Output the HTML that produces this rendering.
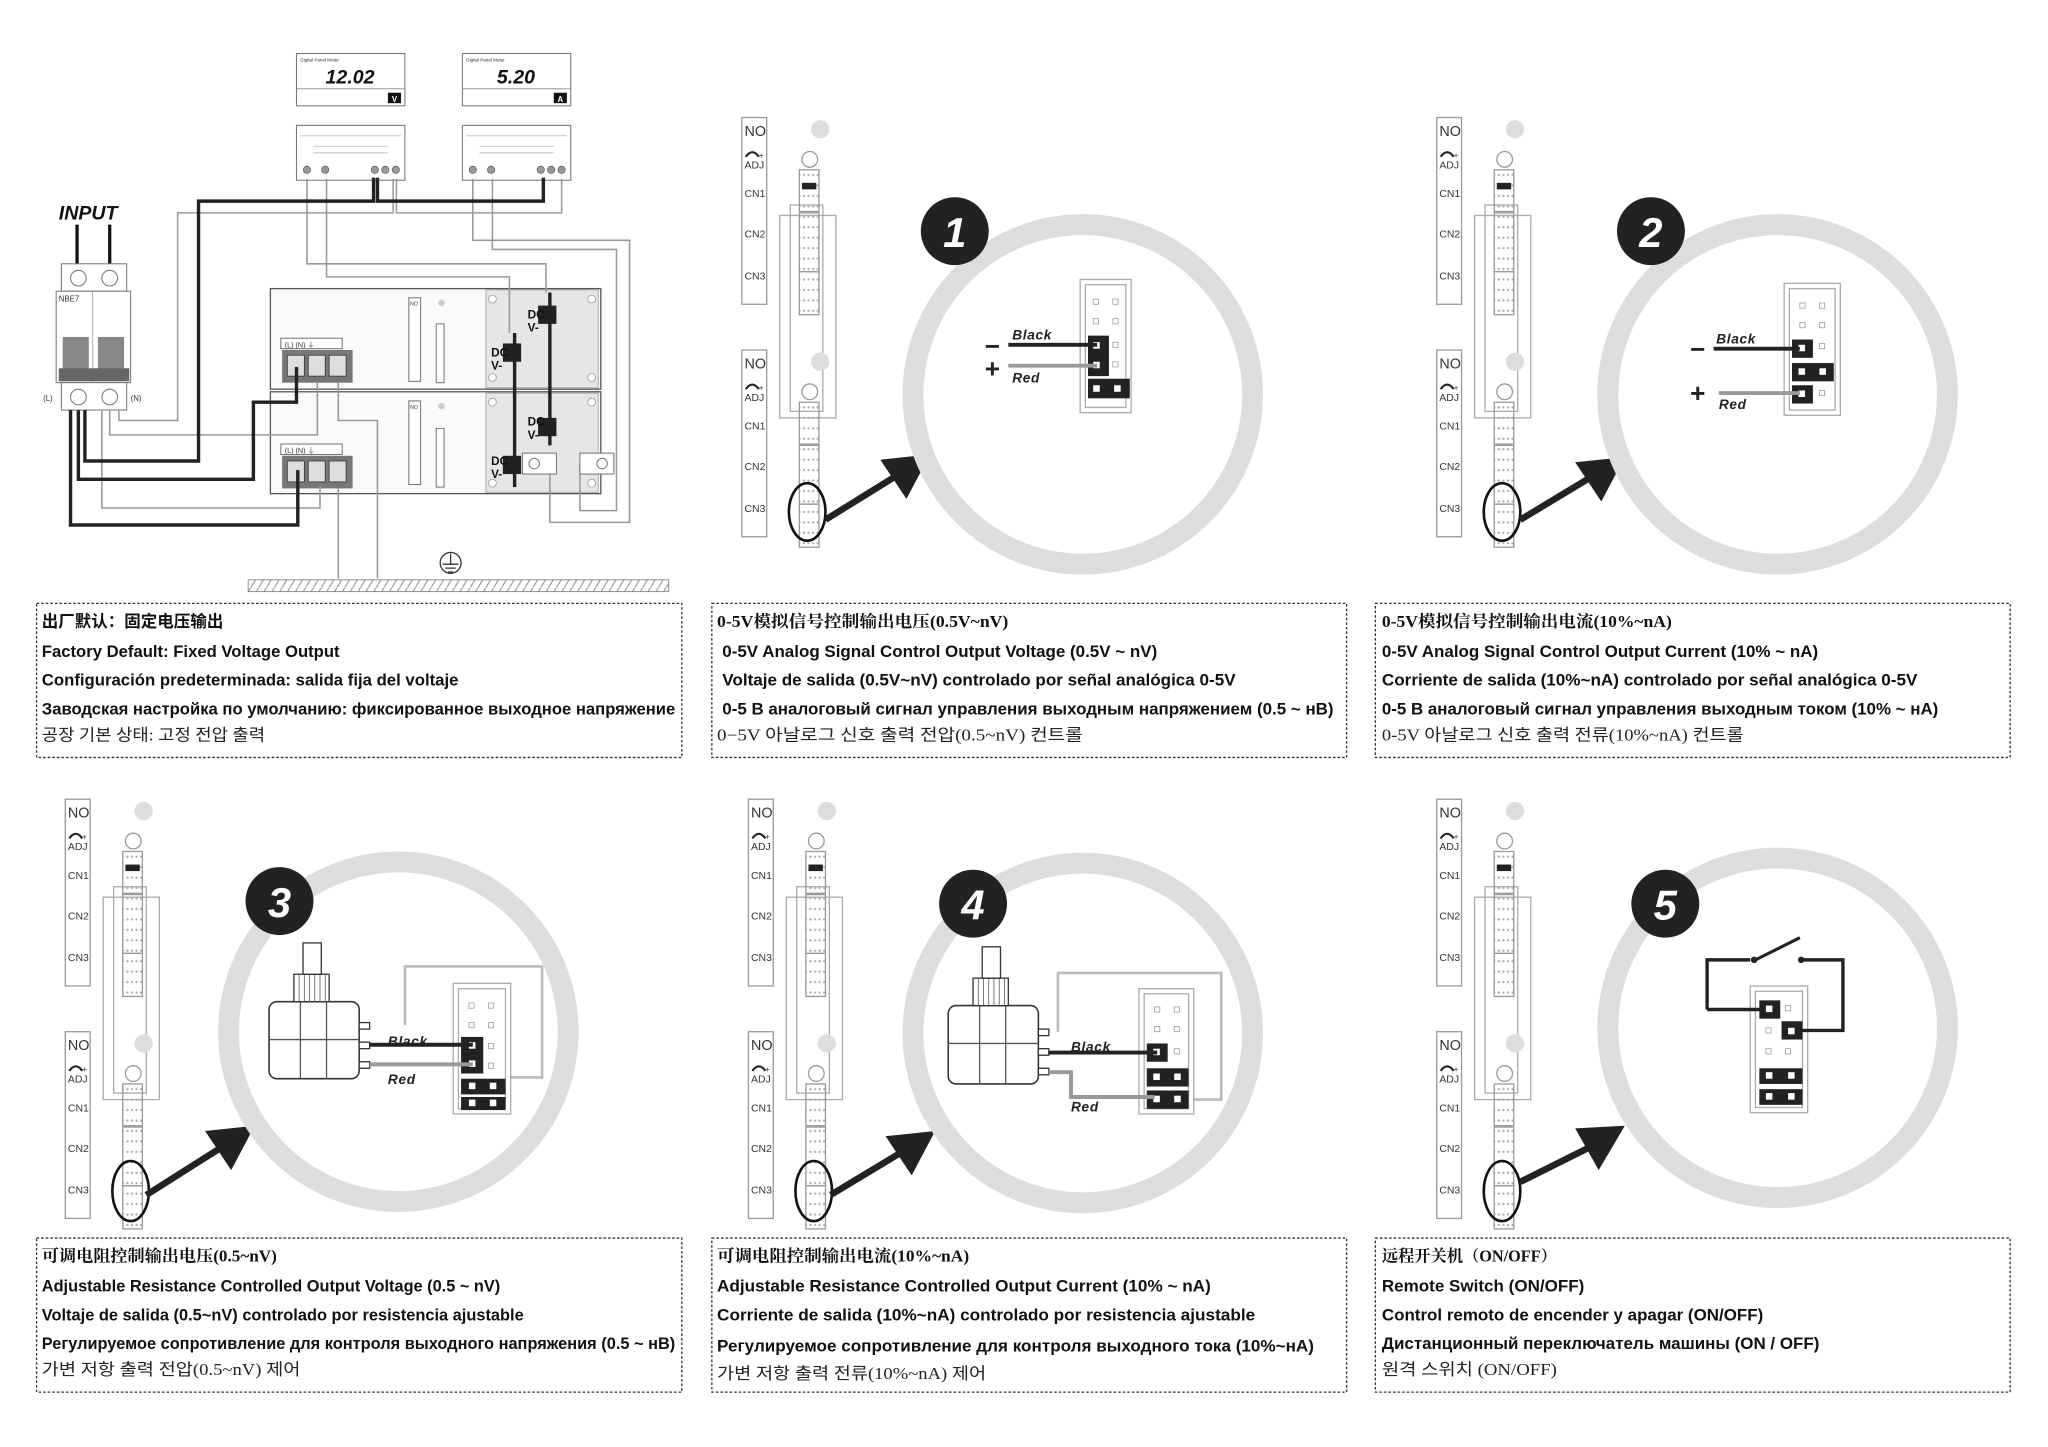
<!DOCTYPE html>
<html><head><meta charset="utf-8"><style>
html,body{margin:0;padding:0;background:#fff}
svg{display:block}
.t{font-family:"Liberation Sans","Noto Sans CJK SC",sans-serif;font-size:12.5px;font-weight:bold;fill:#111}
.k{font-family:"Liberation Serif","Noto Sans CJK KR",serif;font-size:12.5px;fill:#222}
.c{font-family:"Liberation Serif","Noto Serif CJK SC","Noto Sans CJK SC",serif;font-size:12.5px;font-weight:bold;fill:#111}
.s{font-family:"Liberation Sans",sans-serif;fill:#333}
.bx{fill:none;stroke:#333;stroke-width:1;stroke-dasharray:2 1.5}
.g{fill:none;stroke:#999;stroke-width:1.2}
.b{fill:none;stroke:#222;stroke-width:2.6}
.ln{fill:#fff;stroke:#777;stroke-width:0.8}
.ring{fill:none;stroke:#ddd;stroke-width:16}
.wl{font-family:"Liberation Sans",sans-serif;font-weight:bold;font-style:italic;font-size:10.5px;fill:#222;letter-spacing:0.5px}
</style></head><body>
<svg width="2048" height="1447" viewBox="0 0 1568 1108" preserveAspectRatio="none" xmlns="http://www.w3.org/2000/svg">
<defs>
<pattern id="dots" width="7" height="8" patternUnits="userSpaceOnUse"><circle cx="2" cy="4" r="0.9" fill="#aaa"/><circle cx="5.5" cy="4" r="0.9" fill="#aaa"/></pattern>
<pattern id="hatch" width="6" height="10" patternUnits="userSpaceOnUse"><path d="M0,10 L6,0" stroke="#888" stroke-width="0.8"/></pattern>
<marker id="ah" viewBox="0 0 10 10" refX="5" refY="5" markerWidth="4" markerHeight="4" orient="auto"><path d="M0,0 L10,5 L0,10 z" fill="#222"/></marker>
</defs>
<rect width="1568" height="1108" fill="#fff"/>

<!-- ========== TOP LEFT WIRING ========== -->
<!-- meters -->
<g>
<rect x="227" y="41" width="83" height="40" class="ln" stroke="#555"/>
<line x1="227" y1="68" x2="310" y2="68" stroke="#888" stroke-width="0.7"/>
<text x="230" y="47" class="s" font-size="3.5">Digital Panel Meter</text>
<text x="268" y="64" text-anchor="middle" font-family="Liberation Sans" font-weight="bold" font-style="italic" font-size="15" fill="#111">12.02</text>
<rect x="297" y="71" width="10" height="8" fill="#111"/><text x="302" y="78" text-anchor="middle" font-family="Liberation Sans" font-size="6" font-weight="bold" fill="#fff">V</text>
<rect x="354" y="41" width="83" height="40" class="ln" stroke="#555"/>
<line x1="354" y1="68" x2="437" y2="68" stroke="#888" stroke-width="0.7"/>
<text x="357" y="47" class="s" font-size="3.5">Digital Panel Meter</text>
<text x="395" y="64" text-anchor="middle" font-family="Liberation Sans" font-weight="bold" font-style="italic" font-size="15" fill="#111">5.20</text>
<rect x="424" y="71" width="10" height="8" fill="#111"/><text x="429" y="78" text-anchor="middle" font-family="Liberation Sans" font-size="6" font-weight="bold" fill="#fff">A</text>
<rect x="227" y="96" width="83" height="42" class="ln"/>
<rect x="354" y="96" width="83" height="42" class="ln"/>
<g stroke="#bbb" stroke-width="0.6">
<line x1="230" y1="104" x2="307" y2="104"/><line x1="240" y1="112" x2="297" y2="112"/><line x1="240" y1="117" x2="297" y2="117"/>
<line x1="357" y1="104" x2="434" y2="104"/><line x1="367" y1="112" x2="424" y2="112"/><line x1="367" y1="117" x2="424" y2="117"/>
</g>
<g fill="#999" stroke="#555" stroke-width="0.5">
<circle cx="235" cy="130" r="2.8"/><circle cx="249" cy="130" r="2.8"/><circle cx="287" cy="130" r="2.8"/><circle cx="295" cy="130" r="2.8"/><circle cx="303" cy="130" r="2.8"/>
<circle cx="362" cy="130" r="2.8"/><circle cx="376" cy="130" r="2.8"/><circle cx="414" cy="130" r="2.8"/><circle cx="422" cy="130" r="2.8"/><circle cx="430" cy="130" r="2.8"/>
</g>
</g>
<!-- INPUT + breaker -->
<text x="45" y="168" font-family="Liberation Sans" font-weight="bold" font-style="italic" font-size="15" fill="#111">INPUT</text>
<line x1="59" y1="172" x2="59" y2="204" stroke="#111" stroke-width="2.5"/>
<line x1="84" y1="172" x2="84" y2="204" stroke="#111" stroke-width="2.5"/>
<rect x="47" y="202" width="50" height="21" class="ln"/>
<circle cx="60" cy="213" r="6" class="ln"/><circle cx="84" cy="213" r="6" class="ln"/>
<rect x="43" y="223" width="57" height="70" class="ln"/>
<line x1="71" y1="223" x2="71" y2="293" stroke="#999" stroke-width="0.6"/>
<text x="45" y="231" class="s" font-size="6">NBE7</text>
<rect x="48" y="258" width="20" height="26" fill="#888"/><rect x="75" y="258" width="20" height="26" fill="#888"/>
<rect x="45" y="282" width="54" height="10" fill="#666"/>
<rect x="47" y="293" width="50" height="21" class="ln"/>
<circle cx="60" cy="304" r="6" class="ln"/><circle cx="84" cy="304" r="6" class="ln"/>
<text x="33" y="307" class="s" font-size="6">(L)</text><text x="100" y="307" class="s" font-size="6">(N)</text>

<!-- PSU boxes -->
<rect x="207" y="221" width="253" height="77" fill="#fafafa" stroke="#555" stroke-width="1"/>
<rect x="207" y="300" width="253" height="78" fill="#fafafa" stroke="#555" stroke-width="1"/>
<rect x="372" y="222" width="86" height="75" fill="#e6e6e6" stroke="#999" stroke-width="0.6"/>
<rect x="372" y="301" width="86" height="76" fill="#e6e6e6" stroke="#999" stroke-width="0.6"/>
<g fill="#fff" stroke="#999" stroke-width="0.6">
<circle cx="377" cy="229" r="3"/><circle cx="453" cy="229" r="3"/><circle cx="377" cy="289" r="3"/><circle cx="453" cy="289" r="3"/>
<circle cx="377" cy="308" r="3"/><circle cx="453" cy="308" r="3"/><circle cx="377" cy="370" r="3"/><circle cx="453" cy="370" r="3"/>
</g>
<rect x="313" y="228" width="9" height="64" class="ln"/><rect x="313" y="307" width="9" height="64" class="ln"/>
<text x="314" y="234" class="s" font-size="4">NO</text><text x="314" y="313" class="s" font-size="4">NO</text>
<circle cx="338" cy="232" r="2.5" fill="#ccc"/><circle cx="338" cy="311" r="2.5" fill="#ccc"/>
<rect x="334" y="248" width="6" height="45" class="ln"/><rect x="334" y="328" width="6" height="45" class="ln"/>
<rect x="215" y="259" width="47" height="8" class="ln"/><rect x="215" y="340" width="47" height="8" class="ln"/>
<text x="218" y="266" class="s" font-size="5.5">(L)   (N)   ⏚</text><text x="218" y="347" class="s" font-size="5.5">(L)   (N)   ⏚</text>
<rect x="216" y="268" width="54" height="25" fill="#777"/><rect x="216" y="349" width="54" height="25" fill="#777"/>
<g fill="#ddd" stroke="#333" stroke-width="0.6">
<rect x="220" y="272" width="13" height="16"/><rect x="236" y="272" width="13" height="16"/><rect x="252" y="272" width="13" height="16"/>
<rect x="220" y="353" width="13" height="16"/><rect x="236" y="353" width="13" height="16"/><rect x="252" y="353" width="13" height="16"/>
</g>
<!-- thin wires -->
<g class="g">
<path d="M301,137 V163 H136 V322 H91 V314"/>
<path d="M303.5,137 V163 H430 V137"/>
<path d="M235,137 V202 H418 V224"/>
<path d="M250,137 V212 H390 V255"/>
<path d="M362,137 V184 H482 V400 H421 V356"/>
<path d="M377,137 V191 H472 V391 H444 V356"/>
<path d="M84,314 V333 H243 V293"/>
<path d="M78,314 V389 H245 V372"/>
<path d="M259,293 V322 H289 V443"/>
<path d="M259,374 V443"/>
</g>
<!-- thick wires -->
<g class="b">
<path d="M286,136 V154 H152 V353 H65 V314"/>
<path d="M289,136 V154 H416 V136"/>
<path d="M60,314 V367 H194 V308 H227 V281"/>
<path d="M54,314 V402 H228 V360"/>
<path d="M421,224 V341"/>
<path d="M394,255 V373"/>
</g>
<g fill="#222">
<rect x="412" y="234" width="14" height="14"/><rect x="385" y="263" width="14" height="14"/><rect x="412" y="320" width="14" height="14"/><rect x="385" y="349" width="14" height="14"/>
</g>
<g font-family="Liberation Sans" font-weight="bold" font-size="9" fill="#111">
<text x="404" y="244">DC</text><text x="404" y="254">V-</text>
<text x="376" y="273">DC</text><text x="376" y="283">V-</text>
<text x="404" y="326">DC</text><text x="404" y="336">V-</text>
<text x="376" y="356">DC</text><text x="376" y="366">V-</text>
</g>
<rect x="400" y="347" width="26" height="16" class="ln"/><rect x="444" y="347" width="26" height="16" class="ln"/>
<circle cx="409" cy="355" r="4" class="ln"/><circle cx="461" cy="355" r="4" class="ln"/>
<!-- ground -->
<rect x="190" y="444" width="322" height="9" fill="url(#hatch)" stroke="#888" stroke-width="0.7"/>
<circle cx="345" cy="431" r="8" fill="#fff" stroke="#333"/>
<path d="M345,424 V432 M339,432 H351 M341,435 H349 M343,438 H347" stroke="#333" fill="none"/>

<!-- ========== PANEL TEMPLATE COPIES ========== -->
<!-- PANEL 1 -->
<g transform="translate(568,90)">
 <g id="st1">
 <rect x="0" y="0" width="19" height="143" fill="#fff" stroke="#999"/>
 <text x="2" y="14" class="s" font-size="11">NO</text>
 <path d="M3,30 q5,-7 10,0" fill="none" stroke="#222" stroke-width="1.6"/><text x="13" y="31" class="s" font-size="6">+</text>
 <text x="2" y="39" class="s" font-size="8">ADJ</text>
 <text x="2" y="61" class="s" font-size="8">CN1</text><text x="2" y="92" class="s" font-size="8">CN2</text><text x="2" y="124" class="s" font-size="8">CN3</text>
 </g>
 <g transform="translate(0,178)">
 <rect x="0" y="0" width="19" height="143" fill="#fff" stroke="#999"/>
 <text x="2" y="14" class="s" font-size="11">NO</text>
 <path d="M3,30 q5,-7 10,0" fill="none" stroke="#222" stroke-width="1.6"/><text x="13" y="31" class="s" font-size="6">+</text>
 <text x="2" y="39" class="s" font-size="8">ADJ</text>
 <text x="2" y="61" class="s" font-size="8">CN1</text><text x="2" y="92" class="s" font-size="8">CN2</text><text x="2" y="124" class="s" font-size="8">CN3</text>
 </g>
 <rect x="29" y="75" width="43" height="155" fill="none" stroke="#aaa"/><rect x="37" y="67" width="25" height="158" fill="none" stroke="#aaa"/>
 <circle cx="60" cy="9" r="7" fill="#ddd"/><circle cx="52" cy="32" r="6" fill="#fff" stroke="#999"/>
 <rect x="44" y="40" width="15" height="32" fill="url(#dots)" stroke="#999"/><rect x="44" y="73" width="15" height="45" fill="url(#dots)" stroke="#999"/><rect x="44" y="118" width="15" height="33" fill="url(#dots)" stroke="#999"/>
 <rect x="46" y="50" width="11" height="5" fill="#222"/>
 <g transform="translate(0,178)">
 <circle cx="60" cy="9" r="7" fill="#ddd"/><circle cx="52" cy="32" r="6" fill="#fff" stroke="#999"/>
 <rect x="44" y="40" width="15" height="32" fill="url(#dots)" stroke="#999"/><rect x="44" y="73" width="15" height="45" fill="url(#dots)" stroke="#999"/><rect x="44" y="118" width="15" height="33" fill="url(#dots)" stroke="#999"/>
 </g>
 <ellipse cx="50" cy="302" rx="14" ry="22" fill="none" stroke="#111" stroke-width="2"/>
</g>
<line x1="632" y1="398" x2="690" y2="362" stroke="#222" stroke-width="5"/>
<polygon points="712,348 674,352 694,382" fill="#222"/>
<circle cx="829" cy="302" r="130" class="ring"/>
<circle cx="731" cy="177" r="26" fill="#222"/>
<text x="731" y="189" text-anchor="middle" font-family="Liberation Sans" font-weight="bold" font-style="italic" font-size="32" fill="#fff">1</text>
<rect x="827" y="214" width="39" height="102" fill="#fff" stroke="#aaa"/><rect x="831" y="218" width="31" height="94" fill="none" stroke="#aaa"/>
<g fill="#fff" stroke="#999" stroke-width="0.6"><rect x="837" y="229" width="4" height="4"/><rect x="852" y="229" width="4" height="4"/><rect x="837" y="244" width="4" height="4"/><rect x="852" y="244" width="4" height="4"/><rect x="852" y="262" width="4" height="4"/><rect x="852" y="277" width="4" height="4"/></g>
<rect x="833" y="257" width="16" height="31" fill="#222"/><rect x="833" y="290" width="32" height="15" fill="#222"/>
<g fill="#fff"><rect x="837" y="262" width="5" height="5"/><rect x="837" y="277" width="5" height="5"/><rect x="837" y="295" width="5" height="5"/><rect x="853" y="295" width="5" height="5"/></g>
<line x1="772" y1="264" x2="840" y2="264" stroke="#222" stroke-width="3"/>
<line x1="772" y1="280" x2="840" y2="280" stroke="#999" stroke-width="3"/>
<text x="775" y="260" class="wl">Black</text><text x="775" y="293" class="wl">Red</text>
<text x="754" y="272" font-family="Liberation Sans" font-weight="bold" font-size="20" fill="#222">−</text>
<text x="754" y="289" font-family="Liberation Sans" font-weight="bold" font-size="20" fill="#222">+</text>

<!-- PANEL 2 -->
<g transform="translate(1100,90)">
 <rect x="0" y="0" width="19" height="143" fill="#fff" stroke="#999"/>
 <text x="2" y="14" class="s" font-size="11">NO</text>
 <path d="M3,30 q5,-7 10,0" fill="none" stroke="#222" stroke-width="1.6"/><text x="13" y="31" class="s" font-size="6">+</text>
 <text x="2" y="39" class="s" font-size="8">ADJ</text>
 <text x="2" y="61" class="s" font-size="8">CN1</text><text x="2" y="92" class="s" font-size="8">CN2</text><text x="2" y="124" class="s" font-size="8">CN3</text>
 <g transform="translate(0,178)">
 <rect x="0" y="0" width="19" height="143" fill="#fff" stroke="#999"/>
 <text x="2" y="14" class="s" font-size="11">NO</text>
 <path d="M3,30 q5,-7 10,0" fill="none" stroke="#222" stroke-width="1.6"/><text x="13" y="31" class="s" font-size="6">+</text>
 <text x="2" y="39" class="s" font-size="8">ADJ</text>
 <text x="2" y="61" class="s" font-size="8">CN1</text><text x="2" y="92" class="s" font-size="8">CN2</text><text x="2" y="124" class="s" font-size="8">CN3</text>
 </g>
 <rect x="29" y="75" width="43" height="155" fill="none" stroke="#aaa"/><rect x="37" y="67" width="25" height="158" fill="none" stroke="#aaa"/>
 <circle cx="60" cy="9" r="7" fill="#ddd"/><circle cx="52" cy="32" r="6" fill="#fff" stroke="#999"/>
 <rect x="44" y="40" width="15" height="32" fill="url(#dots)" stroke="#999"/><rect x="44" y="73" width="15" height="45" fill="url(#dots)" stroke="#999"/><rect x="44" y="118" width="15" height="33" fill="url(#dots)" stroke="#999"/>
 <rect x="46" y="50" width="11" height="5" fill="#222"/>
 <g transform="translate(0,178)">
 <circle cx="60" cy="9" r="7" fill="#ddd"/><circle cx="52" cy="32" r="6" fill="#fff" stroke="#999"/>
 <rect x="44" y="40" width="15" height="32" fill="url(#dots)" stroke="#999"/><rect x="44" y="73" width="15" height="45" fill="url(#dots)" stroke="#999"/><rect x="44" y="118" width="15" height="33" fill="url(#dots)" stroke="#999"/>
 </g>
 <ellipse cx="50" cy="302" rx="14" ry="22" fill="none" stroke="#111" stroke-width="2"/>
</g>
<line x1="1164" y1="398" x2="1222" y2="363" stroke="#222" stroke-width="5"/>
<polygon points="1244,350 1206,354 1226,384" fill="#222"/>
<circle cx="1361" cy="302" r="130" class="ring"/>
<circle cx="1264" cy="177" r="26" fill="#222"/>
<text x="1264" y="189" text-anchor="middle" font-family="Liberation Sans" font-weight="bold" font-style="italic" font-size="32" fill="#fff">2</text>
<rect x="1366" y="217" width="43" height="101" fill="#fff" stroke="#aaa"/><rect x="1370" y="221" width="35" height="93" fill="none" stroke="#aaa"/>
<g fill="#fff" stroke="#999" stroke-width="0.6"><rect x="1378" y="232" width="4" height="4"/><rect x="1393" y="232" width="4" height="4"/><rect x="1378" y="247" width="4" height="4"/><rect x="1393" y="247" width="4" height="4"/><rect x="1393" y="263" width="4" height="4"/></g>
<rect x="1372" y="260" width="16" height="14" fill="#222"/><rect x="1372" y="278" width="32" height="14" fill="#222"/><rect x="1372" y="295" width="16" height="14" fill="#222"/>
<g fill="#fff"><rect x="1377" y="264" width="5" height="5"/><rect x="1377" y="282" width="5" height="5"/><rect x="1393" y="282" width="5" height="5"/><rect x="1377" y="299" width="5" height="5"/></g>
<rect x="1393" y="299" width="4" height="4" fill="#fff" stroke="#999" stroke-width="0.6"/>
<line x1="1312" y1="267" x2="1378" y2="267" stroke="#222" stroke-width="3"/>
<line x1="1316" y1="301" x2="1378" y2="301" stroke="#999" stroke-width="3"/>
<text x="1314" y="263" class="wl">Black</text><text x="1316" y="313" class="wl">Red</text>
<text x="1294" y="274" font-family="Liberation Sans" font-weight="bold" font-size="20" fill="#222">−</text>
<text x="1294" y="308" font-family="Liberation Sans" font-weight="bold" font-size="20" fill="#222">+</text>

<!-- PANEL 3 -->
<g transform="translate(50,612)">
 <rect x="0" y="0" width="19" height="143" fill="#fff" stroke="#999"/>
 <text x="2" y="14" class="s" font-size="11">NO</text>
 <path d="M3,30 q5,-7 10,0" fill="none" stroke="#222" stroke-width="1.6"/><text x="13" y="31" class="s" font-size="6">+</text>
 <text x="2" y="39" class="s" font-size="8">ADJ</text>
 <text x="2" y="61" class="s" font-size="8">CN1</text><text x="2" y="92" class="s" font-size="8">CN2</text><text x="2" y="124" class="s" font-size="8">CN3</text>
 <g transform="translate(0,178)">
 <rect x="0" y="0" width="19" height="143" fill="#fff" stroke="#999"/>
 <text x="2" y="14" class="s" font-size="11">NO</text>
 <path d="M3,30 q5,-7 10,0" fill="none" stroke="#222" stroke-width="1.6"/><text x="13" y="31" class="s" font-size="6">+</text>
 <text x="2" y="39" class="s" font-size="8">ADJ</text>
 <text x="2" y="61" class="s" font-size="8">CN1</text><text x="2" y="92" class="s" font-size="8">CN2</text><text x="2" y="124" class="s" font-size="8">CN3</text>
 </g>
 <rect x="29" y="75" width="43" height="155" fill="none" stroke="#aaa"/><rect x="37" y="67" width="25" height="158" fill="none" stroke="#aaa"/>
 <circle cx="60" cy="9" r="7" fill="#ddd"/><circle cx="52" cy="32" r="6" fill="#fff" stroke="#999"/>
 <rect x="44" y="40" width="15" height="32" fill="url(#dots)" stroke="#999"/><rect x="44" y="73" width="15" height="45" fill="url(#dots)" stroke="#999"/><rect x="44" y="118" width="15" height="33" fill="url(#dots)" stroke="#999"/>
 <rect x="46" y="50" width="11" height="5" fill="#222"/>
 <g transform="translate(0,178)">
 <circle cx="60" cy="9" r="7" fill="#ddd"/><circle cx="52" cy="32" r="6" fill="#fff" stroke="#999"/>
 <rect x="44" y="40" width="15" height="32" fill="url(#dots)" stroke="#999"/><rect x="44" y="73" width="15" height="45" fill="url(#dots)" stroke="#999"/><rect x="44" y="118" width="15" height="33" fill="url(#dots)" stroke="#999"/>
 </g>
 <ellipse cx="50" cy="300" rx="14" ry="23" fill="none" stroke="#111" stroke-width="2"/>
</g>
<line x1="112" y1="915" x2="172" y2="877" stroke="#222" stroke-width="5"/>
<polygon points="195,862 157,866 177,896" fill="#222"/>
<circle cx="305" cy="790" r="130" class="ring"/>
<circle cx="214" cy="690" r="26" fill="#222"/>
<text x="214" y="702" text-anchor="middle" font-family="Liberation Sans" font-weight="bold" font-style="italic" font-size="32" fill="#fff">3</text>
<path d="M310,785 V740 H415 V825 H391" fill="none" stroke="#bbb" stroke-width="2"/>
<rect x="347" y="753" width="44" height="100" fill="#fff" stroke="#aaa"/><rect x="351" y="757" width="36" height="92" fill="none" stroke="#aaa"/>
<g fill="#fff" stroke="#999" stroke-width="0.6"><rect x="359" y="768" width="4" height="4"/><rect x="374" y="768" width="4" height="4"/><rect x="359" y="783" width="4" height="4"/><rect x="374" y="783" width="4" height="4"/><rect x="374" y="799" width="4" height="4"/><rect x="374" y="814" width="4" height="4"/></g>
<rect x="353" y="794" width="17" height="28" fill="#222"/><rect x="353" y="826" width="34" height="12" fill="#222"/><rect x="353" y="840" width="34" height="10" fill="#222"/>
<g fill="#fff"><rect x="359" y="798" width="5" height="5"/><rect x="359" y="812" width="5" height="5"/><rect x="359" y="829" width="5" height="5"/><rect x="375" y="829" width="5" height="5"/><rect x="359" y="842" width="5" height="5"/><rect x="375" y="842" width="5" height="5"/></g>
<rect x="206" y="767" width="69" height="59" rx="6" fill="#fff" stroke="#333" stroke-width="1.2"/>
<line x1="230" y1="767" x2="230" y2="826" stroke="#555"/><line x1="250" y1="767" x2="250" y2="826" stroke="#555"/><line x1="206" y1="796" x2="275" y2="796" stroke="#555"/>
<rect x="225" y="746" width="27" height="21" fill="#fff" stroke="#333"/>
<path d="M229,746 V767 M233,746 V767 M237,746 V767 M241,746 V767 M245,746 V767 M249,746 V767" stroke="#555" stroke-width="0.6"/>
<rect x="232" y="722" width="14" height="24" fill="#fff" stroke="#333"/>
<g fill="#fff" stroke="#333"><rect x="275" y="783" width="8" height="5"/><rect x="275" y="798" width="8" height="5"/><rect x="275" y="813" width="8" height="5"/></g>
<line x1="283" y1="800" x2="362" y2="800" stroke="#222" stroke-width="3"/>
<line x1="283" y1="815" x2="362" y2="815" stroke="#999" stroke-width="3"/>
<text x="297" y="801" class="wl">Black</text><text x="297" y="830" class="wl">Red</text>

<!-- PANEL 4 -->
<g transform="translate(573,612)">
 <rect x="0" y="0" width="19" height="143" fill="#fff" stroke="#999"/>
 <text x="2" y="14" class="s" font-size="11">NO</text>
 <path d="M3,30 q5,-7 10,0" fill="none" stroke="#222" stroke-width="1.6"/><text x="13" y="31" class="s" font-size="6">+</text>
 <text x="2" y="39" class="s" font-size="8">ADJ</text>
 <text x="2" y="61" class="s" font-size="8">CN1</text><text x="2" y="92" class="s" font-size="8">CN2</text><text x="2" y="124" class="s" font-size="8">CN3</text>
 <g transform="translate(0,178)">
 <rect x="0" y="0" width="19" height="143" fill="#fff" stroke="#999"/>
 <text x="2" y="14" class="s" font-size="11">NO</text>
 <path d="M3,30 q5,-7 10,0" fill="none" stroke="#222" stroke-width="1.6"/><text x="13" y="31" class="s" font-size="6">+</text>
 <text x="2" y="39" class="s" font-size="8">ADJ</text>
 <text x="2" y="61" class="s" font-size="8">CN1</text><text x="2" y="92" class="s" font-size="8">CN2</text><text x="2" y="124" class="s" font-size="8">CN3</text>
 </g>
 <rect x="29" y="75" width="43" height="155" fill="none" stroke="#aaa"/><rect x="37" y="67" width="25" height="158" fill="none" stroke="#aaa"/>
 <circle cx="60" cy="9" r="7" fill="#ddd"/><circle cx="52" cy="32" r="6" fill="#fff" stroke="#999"/>
 <rect x="44" y="40" width="15" height="32" fill="url(#dots)" stroke="#999"/><rect x="44" y="73" width="15" height="45" fill="url(#dots)" stroke="#999"/><rect x="44" y="118" width="15" height="33" fill="url(#dots)" stroke="#999"/>
 <rect x="46" y="50" width="11" height="5" fill="#222"/>
 <g transform="translate(0,178)">
 <circle cx="60" cy="9" r="7" fill="#ddd"/><circle cx="52" cy="32" r="6" fill="#fff" stroke="#999"/>
 <rect x="44" y="40" width="15" height="32" fill="url(#dots)" stroke="#999"/><rect x="44" y="73" width="15" height="45" fill="url(#dots)" stroke="#999"/><rect x="44" y="118" width="15" height="33" fill="url(#dots)" stroke="#999"/>
 </g>
 <ellipse cx="50" cy="300" rx="14" ry="23" fill="none" stroke="#111" stroke-width="2"/>
</g>
<line x1="636" y1="915" x2="694" y2="880" stroke="#222" stroke-width="5"/>
<polygon points="716,866 678,870 698,900" fill="#222"/>
<circle cx="829" cy="791" r="130" class="ring"/>
<circle cx="745" cy="692" r="26" fill="#222"/>
<text x="745" y="704" text-anchor="middle" font-family="Liberation Sans" font-weight="bold" font-style="italic" font-size="32" fill="#fff">4</text>
<path d="M810,790 V745 H935 V842 H914" fill="none" stroke="#bbb" stroke-width="2"/>
<rect x="872" y="757" width="42" height="96" fill="#fff" stroke="#aaa"/><rect x="876" y="761" width="34" height="88" fill="none" stroke="#aaa"/>
<g fill="#fff" stroke="#999" stroke-width="0.6"><rect x="884" y="771" width="4" height="4"/><rect x="899" y="771" width="4" height="4"/><rect x="884" y="786" width="4" height="4"/><rect x="899" y="786" width="4" height="4"/><rect x="899" y="803" width="4" height="4"/></g>
<rect x="878" y="799" width="16" height="14" fill="#222"/><rect x="878" y="818" width="32" height="14" fill="#222"/><rect x="878" y="835" width="32" height="14" fill="#222"/>
<g fill="#fff"><rect x="883" y="803" width="5" height="5"/><rect x="883" y="822" width="5" height="5"/><rect x="899" y="822" width="5" height="5"/><rect x="883" y="839" width="5" height="5"/><rect x="899" y="839" width="5" height="5"/></g>
<rect x="726" y="770" width="69" height="60" rx="6" fill="#fff" stroke="#333" stroke-width="1.2"/>
<line x1="750" y1="770" x2="750" y2="830" stroke="#555"/><line x1="770" y1="770" x2="770" y2="830" stroke="#555"/><line x1="726" y1="799" x2="795" y2="799" stroke="#555"/>
<rect x="745" y="749" width="27" height="21" fill="#fff" stroke="#333"/>
<path d="M749,749 V770 M753,749 V770 M757,749 V770 M761,749 V770 M765,749 V770 M769,749 V770" stroke="#555" stroke-width="0.6"/>
<rect x="752" y="725" width="14" height="24" fill="#fff" stroke="#333"/>
<g fill="#fff" stroke="#333"><rect x="795" y="788" width="8" height="5"/><rect x="795" y="803" width="8" height="5"/><rect x="795" y="818" width="8" height="5"/></g>
<line x1="803" y1="806" x2="886" y2="806" stroke="#222" stroke-width="3"/>
<path d="M803,821 H820 V840 H884" fill="none" stroke="#999" stroke-width="3"/>
<text x="820" y="805" class="wl">Black</text><text x="820" y="851" class="wl">Red</text>

<!-- PANEL 5 -->
<g transform="translate(1100,612)">
 <rect x="0" y="0" width="19" height="143" fill="#fff" stroke="#999"/>
 <text x="2" y="14" class="s" font-size="11">NO</text>
 <path d="M3,30 q5,-7 10,0" fill="none" stroke="#222" stroke-width="1.6"/><text x="13" y="31" class="s" font-size="6">+</text>
 <text x="2" y="39" class="s" font-size="8">ADJ</text>
 <text x="2" y="61" class="s" font-size="8">CN1</text><text x="2" y="92" class="s" font-size="8">CN2</text><text x="2" y="124" class="s" font-size="8">CN3</text>
 <g transform="translate(0,178)">
 <rect x="0" y="0" width="19" height="143" fill="#fff" stroke="#999"/>
 <text x="2" y="14" class="s" font-size="11">NO</text>
 <path d="M3,30 q5,-7 10,0" fill="none" stroke="#222" stroke-width="1.6"/><text x="13" y="31" class="s" font-size="6">+</text>
 <text x="2" y="39" class="s" font-size="8">ADJ</text>
 <text x="2" y="61" class="s" font-size="8">CN1</text><text x="2" y="92" class="s" font-size="8">CN2</text><text x="2" y="124" class="s" font-size="8">CN3</text>
 </g>
 <rect x="29" y="75" width="43" height="155" fill="none" stroke="#aaa"/><rect x="37" y="67" width="25" height="158" fill="none" stroke="#aaa"/>
 <circle cx="60" cy="9" r="7" fill="#ddd"/><circle cx="52" cy="32" r="6" fill="#fff" stroke="#999"/>
 <rect x="44" y="40" width="15" height="32" fill="url(#dots)" stroke="#999"/><rect x="44" y="73" width="15" height="45" fill="url(#dots)" stroke="#999"/><rect x="44" y="118" width="15" height="33" fill="url(#dots)" stroke="#999"/>
 <rect x="46" y="50" width="11" height="5" fill="#222"/>
 <g transform="translate(0,178)">
 <circle cx="60" cy="9" r="7" fill="#ddd"/><circle cx="52" cy="32" r="6" fill="#fff" stroke="#999"/>
 <rect x="44" y="40" width="15" height="32" fill="url(#dots)" stroke="#999"/><rect x="44" y="73" width="15" height="45" fill="url(#dots)" stroke="#999"/><rect x="44" y="118" width="15" height="33" fill="url(#dots)" stroke="#999"/>
 </g>
 <ellipse cx="50" cy="300" rx="14" ry="23" fill="none" stroke="#111" stroke-width="2"/>
</g>
<line x1="1164" y1="905" x2="1222" y2="876" stroke="#222" stroke-width="5"/>
<polygon points="1244,862 1206,864 1224,896" fill="#222"/>
<circle cx="1361" cy="787" r="130" class="ring"/>
<circle cx="1275" cy="692" r="26" fill="#222"/>
<text x="1275" y="704" text-anchor="middle" font-family="Liberation Sans" font-weight="bold" font-style="italic" font-size="32" fill="#fff">5</text>
<rect x="1340" y="755" width="44" height="97" fill="#fff" stroke="#aaa"/><rect x="1344" y="759" width="36" height="89" fill="none" stroke="#aaa"/>
<g fill="#fff" stroke="#999" stroke-width="0.6"><rect x="1352" y="770" width="4" height="4"/><rect x="1367" y="770" width="4" height="4"/><rect x="1352" y="787" width="4" height="4"/><rect x="1352" y="803" width="4" height="4"/><rect x="1367" y="803" width="4" height="4"/></g>
<path d="M1307,773 V735 H1340 M1378,735 H1411 V789 H1372 M1307,773 H1355" fill="none" stroke="#222" stroke-width="2.6"/>
<line x1="1344" y1="735" x2="1378" y2="718" stroke="#222" stroke-width="2.4"/>
<circle cx="1343" cy="735" r="2.5" fill="#222"/><circle cx="1379" cy="735" r="2.5" fill="#222"/>
<rect x="1347" y="766" width="16" height="14" fill="#222"/><rect x="1364" y="782" width="16" height="14" fill="#222"/>
<rect x="1347" y="818" width="33" height="12" fill="#222"/><rect x="1347" y="834" width="33" height="12" fill="#222"/>
<g fill="#fff"><rect x="1352" y="770" width="5" height="5"/><rect x="1369" y="787" width="5" height="5"/><rect x="1352" y="821" width="5" height="5"/><rect x="1369" y="821" width="5" height="5"/><rect x="1352" y="837" width="5" height="5"/><rect x="1369" y="837" width="5" height="5"/></g>

<!-- ========== TEXT BOXES ========== -->
<rect x="28" y="462" width="494" height="118" class="bx"/>
<rect x="545" y="462" width="486" height="118" class="bx"/>
<rect x="1053" y="462" width="486" height="118" class="bx"/>
<rect x="28" y="948" width="494" height="118" class="bx"/>
<rect x="545" y="948" width="486" height="118" class="bx"/>
<rect x="1053" y="948" width="486" height="118" class="bx"/>

<text x="32" y="480" class="t" textLength="139" lengthAdjust="spacingAndGlyphs">出厂默认：固定电压输出</text>
<text x="32" y="503" class="t" textLength="228" lengthAdjust="spacingAndGlyphs">Factory Default: Fixed Voltage Output</text>
<text x="32" y="525" class="t" textLength="319" lengthAdjust="spacingAndGlyphs">Configuración predeterminada: salida fija del voltaje</text>
<text x="32" y="547" class="t" textLength="485" lengthAdjust="spacingAndGlyphs">Заводская настройка по умолчанию: фиксированное выходное напряжение</text>
<text x="32" y="567" class="k" textLength="171" lengthAdjust="spacingAndGlyphs">공장 기본 상태: 고정 전압 출력</text>

<text x="549" y="480" class="c" textLength="223" lengthAdjust="spacingAndGlyphs">0-5V模拟信号控制输出电压(0.5V~nV)</text>
<text x="553" y="503" class="t" textLength="333" lengthAdjust="spacingAndGlyphs">0-5V Analog Signal Control Output Voltage (0.5V ~ nV)</text>
<text x="553" y="525" class="t" textLength="393" lengthAdjust="spacingAndGlyphs">Voltaje de salida (0.5V~nV) controlado por señal analógica 0-5V</text>
<text x="553" y="547" class="t" textLength="468" lengthAdjust="spacingAndGlyphs">0-5 В аналоговый сигнал управления выходным напряжением (0.5 ~ нВ)</text>
<text x="549" y="567" class="k" textLength="280" lengthAdjust="spacingAndGlyphs">0−5V 아날로그 신호 출력 전압(0.5~nV) 컨트롤</text>

<text x="1058" y="480" class="c" textLength="222" lengthAdjust="spacingAndGlyphs">0-5V模拟信号控制输出电流(10%~nA)</text>
<text x="1058" y="503" class="t" textLength="334" lengthAdjust="spacingAndGlyphs">0-5V Analog Signal Control Output Current (10% ~ nA)</text>
<text x="1058" y="525" class="t" textLength="410" lengthAdjust="spacingAndGlyphs">Corriente de salida (10%~nA) controlado por señal analógica 0-5V</text>
<text x="1058" y="547" class="t" textLength="426" lengthAdjust="spacingAndGlyphs">0-5 В аналоговый сигнал управления выходным током (10% ~ нА)</text>
<text x="1058" y="567" class="k" textLength="277" lengthAdjust="spacingAndGlyphs">0-5V 아날로그 신호 출력 전류(10%~nA) 컨트롤</text>

<text x="32" y="966" class="c" textLength="180" lengthAdjust="spacingAndGlyphs">可调电阻控制输出电压(0.5~nV)</text>
<text x="32" y="989" class="t" textLength="351" lengthAdjust="spacingAndGlyphs">Adjustable Resistance Controlled Output Voltage (0.5 ~ nV)</text>
<text x="32" y="1011" class="t" textLength="369" lengthAdjust="spacingAndGlyphs">Voltaje de salida (0.5~nV) controlado por resistencia ajustable</text>
<text x="32" y="1033" class="t" textLength="485" lengthAdjust="spacingAndGlyphs">Регулируемое сопротивление для контроля выходного напряжения (0.5 ~ нВ)</text>
<text x="32" y="1053" class="k" textLength="198" lengthAdjust="spacingAndGlyphs">가변 저항 출력 전압(0.5~nV) 제어</text>

<text x="549" y="966" class="c" textLength="193" lengthAdjust="spacingAndGlyphs">可调电阻控制输出电流(10%~nA)</text>
<text x="549" y="989" class="t" textLength="378" lengthAdjust="spacingAndGlyphs">Adjustable Resistance Controlled Output Current (10% ~ nA)</text>
<text x="549" y="1011" class="t" textLength="412" lengthAdjust="spacingAndGlyphs">Corriente de salida (10%~nA) controlado por resistencia ajustable</text>
<text x="549" y="1035" class="t" textLength="457" lengthAdjust="spacingAndGlyphs">Регулируемое сопротивление для контроля выходного тока (10%~нА)</text>
<text x="549" y="1056" class="k" textLength="206" lengthAdjust="spacingAndGlyphs">가변 저항 출력 전류(10%~nA) 제어</text>

<text x="1058" y="966" class="c" textLength="134" lengthAdjust="spacingAndGlyphs">远程开关机（ON/OFF）</text>
<text x="1058" y="989" class="t" textLength="155" lengthAdjust="spacingAndGlyphs">Remote Switch (ON/OFF)</text>
<text x="1058" y="1011" class="t" textLength="292" lengthAdjust="spacingAndGlyphs">Control remoto de encender y apagar (ON/OFF)</text>
<text x="1058" y="1033" class="t" textLength="335" lengthAdjust="spacingAndGlyphs">Дистанционный переключатель машины (ON / OFF)</text>
<text x="1058" y="1053" class="k" textLength="134" lengthAdjust="spacingAndGlyphs">원격 스위치 (ON/OFF)</text>
</svg>
</body></html>
